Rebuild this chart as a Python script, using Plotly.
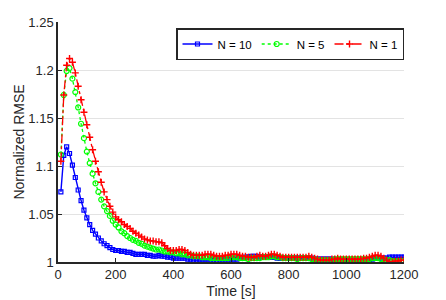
import plotly.graph_objects as go

time_s = list(range(10, 1201, 10))

n10 = [1.073,1.111,1.120,1.113,1.101,1.088,1.075,1.064,1.054,1.046,1.039,1.033,1.029,1.025,1.022,1.019,1.017,1.015,1.013,
       1.012,1.012,1.011,1.011,1.010,1.010,1.009,1.008,1.008,1.008,1.008,
       1.007,1.007,1.006,1.006,1.007,1.006,1.006,1.005,1.005,1.004,
       1.004,1.004,1.004,1.004,1.003,1.003,1.002,1.002,1.001,1.001,
       1.001,1.001,1.002,1.002,1.002,1.003,1.003,1.003,1.003,1.003,
       1.003,1.003,1.004,1.004,1.005,1.005,1.006,1.006,1.006,1.005,
       1.005,1.005,1.005,1.005,1.005,1.004,1.004,1.004,1.004,1.004,
       1.004,1.004,1.004,1.004,1.004,1.004,1.004,1.004,1.003,1.003,
       1.003,1.003,1.003,1.003,1.003,1.002,1.002,1.002,1.002,1.001,
       1.001,1.001,1.001,1.001,1.000,1.001,1.002,1.002,1.003,1.004,
       1.004,1.004,1.004,1.004,1.005,1.005,1.005,1.005,1.005,1.005]

n5 = [1.112,1.174,1.199,1.202,1.191,1.177,1.161,1.144,1.129,1.115,
      1.103,1.092,1.082,1.073,1.065,1.058,1.053,1.048,1.043,1.039,
      1.036,1.032,1.030,1.027,1.025,1.023,1.022,1.020,1.019,1.017,
      1.016,1.015,1.014,1.013,1.013,1.012,1.011,1.011,1.010,1.010,
      1.009,1.009,1.008,1.008,1.007,1.007,1.006,1.006,1.006,1.005,
      1.005,1.005,1.004,1.004,1.004,1.004,1.004,1.004,1.004,1.005,
      1.005,1.005,1.004,1.004,1.004,1.003,1.004,1.004,1.004,1.004,
      1.005,1.005,1.005,1.006,1.006,1.005,1.005,1.004,1.004,1.004,
      1.004,1.004,1.003,1.004,1.004,1.004,1.004,1.003,1.003,1.002,
      1.002,1.002,1.002,1.002,1.002,1.003,1.003,1.003,1.003,1.003,
      1.003,1.003,1.003,1.003,1.003,1.003,1.003,1.003,1.004,1.004,
      1.004,1.003,1.003,1.002,1.002,1.001,1.001,1.001,1.001,1.001]

n1 = [1.105,1.174,1.205,1.212,1.208,1.197,1.183,1.169,1.156,1.143,
      1.130,1.117,1.105,1.094,1.083,1.073,1.065,1.058,1.052,1.047,
      1.044,1.042,1.039,1.037,1.035,1.032,1.030,1.028,1.026,1.024,
      1.023,1.022,1.022,1.021,1.021,1.020,1.017,1.014,1.012,1.012,
      1.012,1.013,1.013,1.012,1.010,1.008,1.007,1.007,1.007,1.007,
      1.008,1.008,1.008,1.007,1.006,1.006,1.006,1.007,1.007,1.008,
      1.008,1.008,1.007,1.006,1.006,1.005,1.005,1.005,1.006,1.007,
      1.006,1.006,1.007,1.008,1.008,1.007,1.006,1.005,1.005,1.005,
      1.005,1.005,1.005,1.005,1.005,1.005,1.006,1.005,1.004,1.003,
      1.002,1.002,1.002,1.002,1.003,1.003,1.004,1.003,1.003,1.003,
      1.003,1.003,1.003,1.003,1.003,1.004,1.004,1.005,1.006,1.007,
      1.007,1.006,1.004,1.002,1.000,1.000,1.001,1.001,1.002,1.002]

series_names = ["N = 10", "N = 5", "N = 1"]
x_ticks = [0, 200, 400, 600, 800, 1000, 1200]
y_ticks = [1, 1.05, 1.1, 1.15, 1.2, 1.25]
y_tick_labels = ["1", "1.05", "1.1", "1.15", "1.2", "1.25"]

fig = go.Figure()
fig.add_trace(go.Scatter(x=time_s, y=n10, name=series_names[0], mode="lines+markers",
                         line=dict(color="#0000ff", width=1.4, dash="solid"),
                         marker=dict(symbol="square-open", size=4, color="#0000ff", line=dict(width=1.2))))
fig.add_trace(go.Scatter(x=time_s, y=n5, name=series_names[1], mode="lines+markers",
                         line=dict(color="#00ff00", width=1.3, dash="dot"),
                         marker=dict(symbol="circle-open", size=5, color="#00ff00", line=dict(width=1.2))))
fig.add_trace(go.Scatter(x=time_s, y=n1, name=series_names[2], mode="lines+markers",
                         line=dict(color="#ff0000", width=1.3, dash="dashdot"),
                         marker=dict(symbol="cross-thin-open", size=5, color="#ff0000", line=dict(width=1.4, color="#ff0000"))))

# page body has an 8px default margin, so the figure is offset by (8, 8)
fig.update_layout(
    width=438, height=292,
    margin=dict(l=50, r=42, t=14, b=38, autoexpand=False),
    paper_bgcolor="white", plot_bgcolor="white",
    font=dict(family="Liberation Sans, Arial, sans-serif", size=13, color="#262626"),
    showlegend=True,
    legend=dict(orientation="h", x=1.0, xanchor="right", y=0.975, yanchor="top",
                bgcolor="white", bordercolor="#262626", borderwidth=1.5,
                font=dict(size=11.5, color="#000000"), itemwidth=30,
                tracegroupgap=0),
)
fig.update_xaxes(range=[0, 1200], tickvals=x_ticks, ticks="inside", ticklen=4, tickwidth=1,
                 tickcolor="#262626", showline=True, linecolor="#262626", linewidth=1.5,
                 showgrid=False, zeroline=False, automargin=False,
                 title=dict(text="Time [s]", font=dict(size=14), standoff=5),
                 tickfont=dict(size=13))
fig.update_yaxes(range=[1, 1.25], tickvals=y_ticks, ticktext=y_tick_labels, ticks="inside", ticklen=4,
                 tickwidth=1, tickcolor="#262626", showline=True, linecolor="#262626", linewidth=1.5,
                 showgrid=True, gridcolor="#e3e3e3", gridwidth=1, zeroline=False, automargin=False,
                 title=dict(text="Normalized RMSE", font=dict(size=14), standoff=0),
                 tickfont=dict(size=13))

fig.write_html("out.html")
